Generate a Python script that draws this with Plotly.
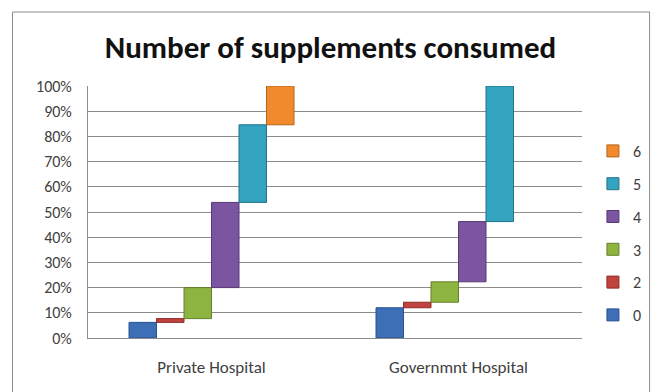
import plotly.graph_objects as go

categories = ["Private Hospital", "Governmnt Hospital"]
series_names = ["0", "2", "3", "4", "5", "6"]
private_pct = [6.2, 1.5, 12.3, 33.8, 30.8, 15.4]
government_pct = [12.0, 2.2, 8.1, 23.9, 53.8, None]
y_ticks = list(range(0, 101, 10))
y_tick_labels = [f"{v}%" for v in y_ticks]

colors = ["#3D6FB6", "#C0433F", "#8DB440", "#7B55A0", "#33A3BF", "#F08A2C"]
edge_colors = ["#2A5290", "#8E2B28", "#667F2A", "#573A75", "#1F7488", "#B5631A"]

FONT = "Carlito, Calibri, Lato, sans-serif"

# page body has an 8px margin; design coordinates are shifted by it
OFF = 8
W, H = 659 - OFF, 392 - OFF
L, T = 88 - OFF, 86 - OFF
PR, PB = 585 - OFF, 338 - OFF
R, B = W - PR, H - PB
pw, ph = PR - L, PB - T

fig = go.Figure()
cum_p, cum_g = 0.0, 0.0
n = len(series_names)
for i, name in enumerate(series_names):
    vp = private_pct[i]
    vg = government_pct[i]
    base_p = cum_p
    base_g = cum_g
    cum_p += vp or 0
    cum_g += vg or 0
    fig.add_trace(go.Bar(
        name=name,
        x=categories,
        y=[vp, vg],
        base=[base_p, base_g],
        marker=dict(color=colors[i], line=dict(color=edge_colors[i], width=1)),
        legendgroup=name,
        legendrank=n - i,
    ))

fig.update_layout(
    width=W, height=H,
    margin=dict(l=L, r=R, t=T, b=B),
    paper_bgcolor="white", plot_bgcolor="white",
    barmode="group", bargap=0.332, bargroupgap=0,
    font=dict(family=FONT, size=15, color="#404040"),
    title=dict(text="<b>Number of supplements consumed</b>",
               x=(332 - OFF - L) / pw, xref="paper", xanchor="center",
               y=1 - (47 - OFF) / H, yanchor="middle",
               font=dict(family=FONT, size=31, color="#111111")),
    showlegend=True,
    legend=dict(x=(596 - OFF - L) / pw, xanchor="left",
                y=(338 - 233) / ph, yanchor="middle",
                traceorder="grouped", tracegroupgap=9,
                font=dict(family=FONT, size=16, color="#404040"),
                bgcolor="rgba(0,0,0,0)"),
    shapes=[dict(type="rect", xref="paper", yref="paper",
                 x0=(12 - OFF - L) / pw, x1=(653 - OFF - L) / pw,
                 y0=(PB - (398 - OFF)) / ph, y1=(PB - (12 - OFF)) / ph,
                 line=dict(color="#8a8a8a", width=1), fillcolor="rgba(0,0,0,0)", layer="below")],
)
fig.update_yaxes(range=[0, 100], tickmode="array", tickvals=y_ticks, ticktext=y_tick_labels,
                 showgrid=True, gridcolor="#8c8c8c", gridwidth=1,
                 showline=True, linecolor="#8c8c8c", linewidth=1,
                 zeroline=False, ticks="", ticklabelstandoff=12,
                 tickfont=dict(size=16, color="#404040"))
fig.update_xaxes(showline=True, linecolor="#8c8c8c", linewidth=1, ticks="",
                 ticklabelstandoff=14, tickfont=dict(size=17, color="#404040"))

fig.write_html("out.html")
